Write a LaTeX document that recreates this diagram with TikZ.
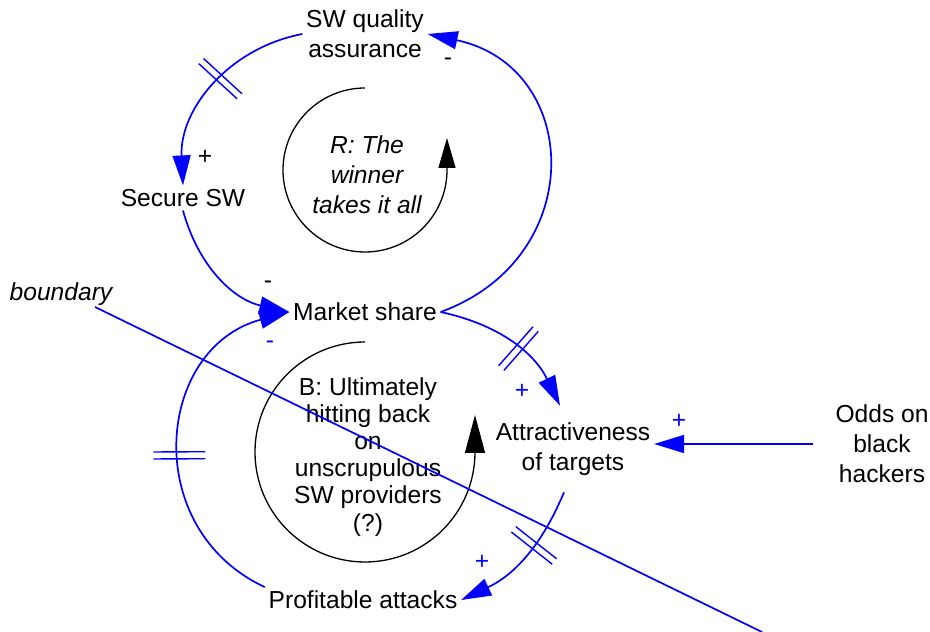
\documentclass[tikz,border=0pt]{standalone}
\usepackage{fontspec}
\setmainfont{Liberation Sans}
\usetikzlibrary{arrows.meta,decorations.markings}
\tikzset{
 link/.style={blue, line width=0.034cm, ->},
 delaymark/.style={postaction={decorate, decoration={markings,
   mark=at position #1 with {\draw[-, blue, line width=0.028cm] (-3.5,-26) -- (-3.5,26) (3.5,-26) -- (3.5,26);}}}},
 sign/.style={inner sep=0pt},
 loopline/.style={black, line width=0.026cm}
}
\begin{document}
\begin{tikzpicture}[x=0.02cm, y=0.02cm, >={Triangle[length=0.6cm,width=0.36cm]},
  font=\fontsize{14pt}{17pt}\selectfont, inner sep=2pt]
 \useasboundingbox (0,0) rectangle (930,632);
 \node[align=center] (qa) at (365,598) {SW quality\\assurance};
 \node (secure) at (183,434) {Secure SW};
 \node (market) at (365,320) {Market share};
 \node[align=center] (attract) at (573,183) {Attractiveness\\of targets};
 \node[align=center] (odds) at (882,188) {Odds on\\black\\hackers};
 \node (profit) at (363,32) {Profitable attacks};
 \node[font=\fontsize{14pt}{17pt}\selectfont\itshape] (bnd) at (61,338) {boundary};
 \node[align=center, font=\fontsize{14pt}{17pt}\selectfont\itshape] (rloop) at (367,457) {R: The\\winner\\takes it all};
 \node[align=center, font=\fontsize{14pt}{15.4pt}\selectfont] (bloop) at (368,175) {B: Ultimately\\hitting back\\on\\unscrupulous\\SW providers\\(?)};
 \draw[loopline, -{Triangle[length=0.6cm,width=0.34cm]}] (365,544) arc[start angle=90, end angle=360, radius=82] -- ++(0,32);
 \draw[loopline, -{Triangle[length=0.76cm,width=0.4cm]}] (365,290) arc[start angle=90, end angle=360, radius=110] -- ++(0,37);
 \coordinate (cut-a) at (95,325);
 \coordinate (cut-b) at (762,0);
 \draw[blue, line width=0.034cm] (cut-a) -- (cut-b);
 \draw[link, delaymark=0.45] (qa.west) to[bend right=41] (secure.north);
 \draw[link] (secure.south) to[bend right=31] (market.west);
 \draw[link] (market.east) to[out=20, in=-12, looseness=1.45] (qa.east);
 \draw[link, delaymark=0.55] (market.east) to[bend left=26] ([shift={(-13,13)}]attract.north);
 \draw[link] ([xshift=-0.38cm]odds.west) -- (odds.west -| attract.east);
 \draw[link, delaymark=0.4] ([shift={(-9,-13)}]attract.south) to[bend left=21] (profit.east);
 \draw[link, delaymark=0.46] (profit.north west) to[out=155, in=-165, looseness=1.28] (market.west);
 \node[sign] (s1) at (205,475) {+};
 \node[sign] (s2) at (448,570) {-};
 \node[sign] (s3) at (268,347) {-};
 \node[sign, blue] (s4) at (270,287) {-};
 \node[sign, blue] (s5) at (522,241) {+};
 \node[sign, blue] (s6) at (679,211) {+};
 \node[sign, blue] (s7) at (482,70) {+};
\end{tikzpicture}
\end{document}
